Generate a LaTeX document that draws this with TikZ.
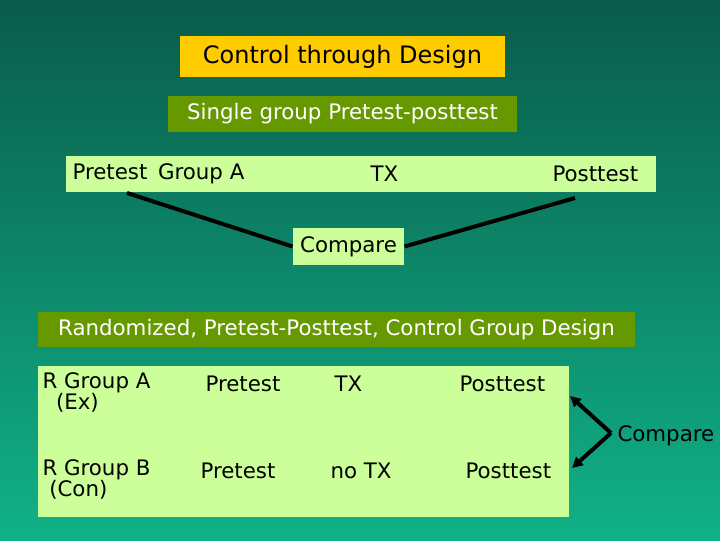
\documentclass[tikz,border=0pt]{standalone}
\usepackage{fontspec}
\setmainfont{DejaVu Sans}
\usetikzlibrary{arrows.meta}
\definecolor{bgtop}{RGB}{10,92,74}
\definecolor{bgbot}{RGB}{16,178,136}
\definecolor{titlebox}{RGB}{255,204,0}
\definecolor{headbox}{RGB}{102,153,0}
\definecolor{limebox}{RGB}{204,255,153}
\tikzset{every picture/.style={line width=0.75pt}}
\tikzset{
  hbox/.style={fill=headbox,text=white,inner sep=0pt,font=\fontsize{16}{18}\selectfont},
  lbox/.style={fill=limebox,inner sep=0pt,font=\fontsize{16}{18}\selectfont},
  txt/.style={anchor=west,inner sep=0pt,font=\fontsize{16}{18}\selectfont,align=left},
  link/.style={line width=3pt}
}
\begin{document}
\begin{tikzpicture}[x=0.75pt,y=0.75pt,yscale=-1,xscale=1]
\useasboundingbox (0,0) rectangle (720,540);
% background
\shade [top color=bgtop,bottom color=bgbot] (0,0) rectangle (720,540);

% Title
\node (title) [fill=titlebox,inner sep=0pt,minimum width=325*0.75pt,minimum height=41*0.75pt,font=\fontsize{18}{20}\selectfont] at (342.5,56.5) {Control through Design};
% Single group design
\node (single) [hbox,minimum width=349*0.75pt,minimum height=36*0.75pt] at (342.5,114) {Single group Pretest-posttest};
\node (row) [lbox,minimum width=590*0.75pt,minimum height=36*0.75pt] at (361,174) {};
\node (pre) [txt] at (72,174) {Pretest\enspace Group A};
\node (tx) [txt] at (370,174) {TX};
\node (post) [txt] at (552,174) {Posttest};
\node (cmp) [lbox,minimum width=111*0.75pt,minimum height=37*0.75pt] at (348.5,246.5) {Compare};
\coordinate (preend) at (127,193);
\coordinate (postend) at (575,198);
\draw [link] (preend) -- (cmp.west);
\draw [link] (postend) -- (cmp.east);

% Randomized design
\node (rand) [hbox,minimum width=597*0.75pt,minimum height=35*0.75pt] at (336.5,329.5) {Randomized, Pretest-Posttest, Control Group Design};
\node (table) [lbox,minimum width=531*0.75pt,minimum height=151*0.75pt] at (303.5,441.5) {};
\node (ga) [txt,anchor=north west] at (42,372) {R Group A\\[-2pt]\ \ (Ex)};
\node (gapre) [txt] at (205,384) {Pretest};
\node (gatx) [txt] at (334,384) {TX};
\node (gapost) [txt] at (459,384) {Posttest};
\node (gb) [txt,anchor=north west] at (42,459) {R Group B\\[-2pt]\ (Con)};
\node (gbpre) [txt] at (200,471) {Pretest};
\node (gbtx) [txt] at (330,471) {no TX};
\node (gbpost) [txt] at (465,471) {Posttest};
\node (cmp2) [txt] at (617,436) {Compare};
\coordinate (tip) at (611,433);
\coordinate (upa) at (570,396);
\coordinate (dna) at (572,468);
\draw [link,-{Triangle[length=8pt,width=8pt]}] (tip) -- (upa);
\draw [link,-{Triangle[length=8pt,width=8pt]}] (tip) -- (dna);

\end{tikzpicture}
\end{document}
